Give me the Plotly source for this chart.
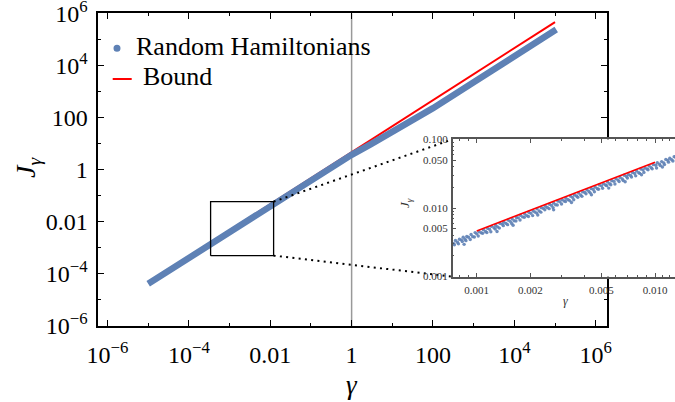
import plotly.graph_objects as go

W, H = 675, 402
BLUE = "#5E81B5"
RED = "#FF0000"
FONT = "Liberation Serif"

# ---------------- data ----------------
# main panel: centre of the "Random Hamiltonians" band
MAIN_GAMMA = [1e-5, 1e-4, 1e-3, 1e-2, 0.1, 0.3, 1, 3, 10, 30, 100, 1e3, 1e4, 1.07e5]
MAIN_J = [4.15e-5, 4.12e-4, 4.1e-3, 0.041, 0.40, 1.16, 3.7, 9.6, 27.5, 73.5, 230, 2250, 22500, 240000]

# bound
BOUND_GAMMA = [1e-5, 1e5]
BOUND_J = [4.63e-5, 4.63e5]
INSET_BOUND_GAMMA = [0.001, 0.01]
INSET_BOUND_J = [0.00463, 0.0463]

# inset scatter (values in units of 1e-3)
INSET_G_UPPER = [0.76, 0.80, 0.84, 0.88, 0.93, 0.98, 1.03, 1.09, 1.15, 1.21, 1.28, 1.35, 1.42, 1.50,
                 1.58, 1.67, 1.76, 1.86, 1.96, 2.07, 2.18, 2.30, 2.43, 2.56, 2.70, 2.85, 3.01, 3.17,
                 3.35, 3.53, 3.73, 3.93, 4.15, 4.38, 4.62, 4.87, 5.14, 5.42, 5.72, 6.04, 6.37, 6.72,
                 7.09, 7.48, 7.89, 8.33, 8.79, 9.27, 9.78, 10.3, 10.9, 11.5, 12.1, 12.8]
INSET_J_UPPER = [3.36, 3.50, 3.74, 3.84, 4.10, 4.38, 4.50, 4.83, 5.05, 5.40, 5.57, 5.97, 6.22, 6.66,
                 6.95, 7.28, 7.83, 8.17, 8.66, 9.05, 9.72, 10.12, 10.57, 11.34, 11.83, 12.65, 13.27, 13.82,
                 14.91, 15.50, 16.49, 17.17, 18.43, 19.27, 20.14, 21.67, 22.51, 23.96, 25.00, 26.76, 27.96, 29.97,
                 30.84, 32.99, 34.56, 36.99, 38.41, 40.97, 42.93, 45.63, 47.52, 51.18, 53.24, 56.06]
INSET_G_MID = [0.74, 0.78, 0.82, 0.86, 0.90, 0.95, 1.00, 1.06, 1.12, 1.18, 1.25, 1.31, 1.39, 1.46,
               1.54, 1.62, 1.71, 1.81, 1.91, 2.01, 2.12, 2.24, 2.36, 2.49, 2.63, 2.77, 2.93, 3.09,
               3.26, 3.44, 3.63, 3.83, 4.04, 4.26, 4.50, 4.75, 5.01, 5.28, 5.57, 5.88, 6.20, 6.55,
               6.91, 7.29, 7.69, 8.11, 8.56, 9.03, 9.53, 10.1, 10.6, 11.2, 11.8, 12.4, 13.1]
INSET_J_MID = [3.05, 3.16, 3.43, 3.51, 3.74, 3.82, 4.20, 4.35, 4.55, 4.91, 5.15, 5.31, 5.81, 5.96,
               6.39, 6.51, 7.18, 7.42, 7.75, 8.36, 8.73, 9.07, 9.86, 10.16, 10.91, 11.14, 12.31, 12.67,
               13.24, 14.31, 14.96, 15.51, 16.89, 17.38, 18.68, 19.10, 21.04, 21.65, 22.61, 24.46, 25.54, 26.53,
               28.88, 29.74, 31.91, 32.60, 35.95, 37.02, 38.69, 42.02, 43.67, 45.36, 49.32, 50.59, 54.37]
INSET_G_LOWER = [0.75, 0.79, 0.83, 0.87, 0.92, 0.97, 1.02, 1.08, 1.14, 1.20, 1.27, 1.34, 1.41, 1.49,
                 1.57, 1.66, 1.75, 1.85, 1.95, 2.06, 2.17, 2.29, 2.41, 2.55, 2.68, 2.83, 2.99, 3.15,
                 3.32, 3.50, 3.69, 3.89, 4.10, 4.33, 4.57, 4.82, 5.08, 5.36, 5.65, 5.96, 6.29, 6.63,
                 7.00, 7.38, 7.79, 8.21, 8.66, 9.14, 9.64, 10.2, 10.7, 11.3, 11.9, 12.6]
INSET_J_LOWER = [2.91, 3.00, 3.25, 3.34, 3.48, 3.78, 3.90, 4.27, 4.40, 4.51, 4.93, 5.09, 5.53, 5.72,
                 5.93, 6.47, 6.69, 7.31, 7.53, 7.75, 8.42, 8.70, 9.45, 9.79, 10.13, 11.04, 11.42, 12.44,
                 12.82, 13.16, 14.32, 14.78, 16.07, 16.63, 17.27, 18.80, 19.41, 21.17, 21.81, 22.41, 24.41, 25.19,
                 27.44, 28.34, 29.45, 32.02, 33.08, 36.10, 37.21, 38.35, 41.52, 42.94, 46.65, 48.38]
INSET_G_OUT = [0.85, 1.30, 1.60, 2.20, 2.70, 3.40, 4.40, 5.50, 6.80, 8.40, 11.0]
INSET_J_OUT = [2.95, 4.55, 5.60, 7.90, 9.40, 12.0, 15.6, 19.5, 24.2, 30.5, 39.6]

# zoom box in main panel
BOX_GAMMA = [3.42e-4, 0.0121]
BOX_J = [5.0e-4, 0.059]

# ticks
MAIN_TICKS = [1e-6, 1e-4, 1e-2, 1, 100, 1e4, 1e6]
MAIN_TICK_TEXT = ["10<sup>−6</sup>", "10<sup>−4</sup>", "0.01", "1", "100", "10<sup>4</sup>", "10<sup>6</sup>"]
MAIN_MINOR = [1e-5, 1e-3, 0.1, 10, 1000, 1e5]
INSET_XTICKS = [0.001, 0.002, 0.005, 0.01]
INSET_XTICK_TEXT = ["0.001", "0.002", "0.005", "0.010"]
INSET_XMINOR = [0.0008, 0.0009, 0.003, 0.004, 0.006, 0.007, 0.008, 0.009, 0.011, 0.012, 0.013]
INSET_YTICKS = [0.001, 0.005, 0.01, 0.05, 0.1]
INSET_YTICK_TEXT = ["0.001", "0.005", "0.010", "0.050", "0.100"]
INSET_YMINOR = [0.002, 0.003, 0.004, 0.006, 0.007, 0.008, 0.009,
                0.02, 0.03, 0.04, 0.06, 0.07, 0.08, 0.09]

# ---------------- layout geometry ----------------
MAIN_X_RANGE = [-6.246, 6.27]
MAIN_Y_RANGE = [-6.002, 6.002]
MAIN_X_DOMAIN = [97.5 / W, 606.7 / W]
MAIN_Y_DOMAIN = [1 - 326.0 / H, 1 - 13.3 / H]
INSET_X_RANGE = [-3.1346, -1.888]
INSET_Y_RANGE = [-3.002, -0.998]
INSET_X_DOMAIN = [452.7 / W, 1.0]
INSET_Y_DOMAIN = [1 - 276.7 / H, 1 - 139.3 / H]


def main_x_at(p):
    lo, hi = MAIN_X_RANGE
    d0, d1 = MAIN_X_DOMAIN
    return 10 ** (lo + (p - d0) / (d1 - d0) * (hi - lo))


def main_y_at(p):
    lo, hi = MAIN_Y_RANGE
    d0, d1 = MAIN_Y_DOMAIN
    return 10 ** (lo + (p - d0) / (d1 - d0) * (hi - lo))


def px(x):
    return x / W


def py(y):
    return 1 - y / H


fig = go.Figure()

# gray reference line at gamma = 1
fig.add_trace(go.Scatter(x=[1, 1], y=[1e-6, 1e6], mode="lines",
                         line=dict(color="#999999", width=1.5), hoverinfo="skip", showlegend=False))
# bound (main)
fig.add_trace(go.Scatter(x=BOUND_GAMMA, y=BOUND_J, mode="lines", name="Bound",
                         line=dict(color=RED, width=2), showlegend=False))
# random hamiltonians band (main)
fig.add_trace(go.Scatter(x=MAIN_GAMMA, y=MAIN_J, mode="lines", name="Random Hamiltonians",
                         line=dict(color=BLUE, width=6.5), showlegend=False))
# zoom box
fig.add_trace(go.Scatter(x=[BOX_GAMMA[0], BOX_GAMMA[1], BOX_GAMMA[1], BOX_GAMMA[0], BOX_GAMMA[0]],
                         y=[BOX_J[0], BOX_J[0], BOX_J[1], BOX_J[1], BOX_J[0]], mode="lines",
                         line=dict(color="black", width=1.3), hoverinfo="skip", showlegend=False))
# connectors to inset corners
cx = main_x_at(INSET_X_DOMAIN[0])
fig.add_trace(go.Scatter(x=[BOX_GAMMA[1], cx], y=[BOX_J[1], main_y_at(INSET_Y_DOMAIN[1])], mode="lines",
                         line=dict(color="black", width=2, dash="2px,4.3px"), hoverinfo="skip", showlegend=False))
fig.add_trace(go.Scatter(x=[BOX_GAMMA[1], cx], y=[BOX_J[0], main_y_at(INSET_Y_DOMAIN[0])], mode="lines",
                         line=dict(color="black", width=2, dash="2px,4.3px"), hoverinfo="skip", showlegend=False))

# inset scatter
for gs, js in [(INSET_G_MID, INSET_J_MID), (INSET_G_LOWER, INSET_J_LOWER),
               (INSET_G_UPPER, INSET_J_UPPER), (INSET_G_OUT, INSET_J_OUT)]:
    fig.add_trace(go.Scatter(x=[g * 1e-3 for g in gs], y=[j * 1e-3 for j in js], mode="markers",
                             marker=dict(color=BLUE, size=3.4, opacity=0.9, line=dict(width=0)),
                             xaxis="x2", yaxis="y2", showlegend=False))
fig.add_trace(go.Scatter(x=INSET_BOUND_GAMMA, y=INSET_BOUND_J, mode="lines",
                         line=dict(color=RED, width=1.6), xaxis="x2", yaxis="y2", showlegend=False))

main_font = dict(family=FONT, size=24, color="black")
inset_font = dict(family=FONT, size=11, color="#333333")

fig.update_layout(
    width=W, height=H,
    margin=dict(l=0, r=0, t=0, b=0, autoexpand=False),
    paper_bgcolor="white", plot_bgcolor="white",
    showlegend=False,
    xaxis=dict(type="log", range=MAIN_X_RANGE, domain=MAIN_X_DOMAIN, anchor="y", automargin=False,
               showgrid=False, zeroline=False, showline=True, linecolor="black", linewidth=2,
               mirror="ticks", ticks="inside", ticklen=6, tickwidth=1.3, tickcolor="black",
               tickmode="array", tickvals=MAIN_TICKS, ticktext=MAIN_TICK_TEXT,
               minor=dict(tickvals=MAIN_MINOR, ticks="inside", ticklen=3, tickcolor="black", tickwidth=1.1),
               tickfont=main_font, ticklabelstandoff=6, ticklabeloverflow="allow"),
    yaxis=dict(type="log", range=MAIN_Y_RANGE, domain=MAIN_Y_DOMAIN, anchor="x", automargin=False,
               showgrid=False, zeroline=False, showline=True, linecolor="black", linewidth=2,
               mirror="ticks", ticks="inside", ticklen=6, tickwidth=1.3, tickcolor="black",
               tickmode="array", tickvals=MAIN_TICKS, ticktext=MAIN_TICK_TEXT,
               minor=dict(tickvals=MAIN_MINOR, ticks="inside", ticklen=3, tickcolor="black", tickwidth=1.1),
               tickfont=main_font, ticklabelstandoff=3, ticklabeloverflow="allow"),
    xaxis2=dict(type="log", range=INSET_X_RANGE, domain=INSET_X_DOMAIN, anchor="y2", automargin=False,
                showgrid=False, zeroline=False, showline=True, linecolor="#555555", linewidth=1.5,
                mirror="ticks", ticks="inside", ticklen=4, tickwidth=1, tickcolor="#555555",
                tickmode="array", tickvals=INSET_XTICKS, ticktext=INSET_XTICK_TEXT,
                minor=dict(tickvals=INSET_XMINOR, ticks="inside", ticklen=2, tickcolor="#555555"),
                tickfont=inset_font, ticklabelstandoff=2, ticklabeloverflow="allow"),
    yaxis2=dict(type="log", range=INSET_Y_RANGE, domain=INSET_Y_DOMAIN, anchor="x2", automargin=False,
                showgrid=False, zeroline=False, showline=True, linecolor="#555555", linewidth=1.5,
                mirror=False, ticks="inside", ticklen=4, tickwidth=1, tickcolor="#555555",
                tickmode="array", tickvals=INSET_YTICKS, ticktext=INSET_YTICK_TEXT,
                minor=dict(tickvals=INSET_YMINOR, ticks="inside", ticklen=2, tickcolor="#555555"),
                tickfont=inset_font, ticklabelstandoff=1, ticklabeloverflow="allow"),
)

annotations = [
    dict(x=px(352), y=py(385), text="<i>γ</i>", font=dict(family=FONT, size=27, color="black")),
    dict(x=px(27), y=py(168), text="<i>J</i><sub><i>γ</i></sub>", textangle=-90,
         font=dict(family=FONT, size=28, color="black")),
    dict(x=px(565), y=py(301), text="<i>γ</i>", font=dict(family=FONT, size=12, color="#333333")),
    dict(x=px(405), y=py(203), text="<i>J</i><sub><i>γ</i></sub>", textangle=-90,
         font=dict(family=FONT, size=13, color="#333333")),
    dict(x=px(134), y=py(46), text="Random Hamiltonians", xanchor="left",
         font=dict(family=FONT, size=26, color="black")),
    dict(x=px(141), y=py(76), text="Bound", xanchor="left",
         font=dict(family=FONT, size=26, color="black")),
]
for a in annotations:
    a.setdefault("xanchor", "center")
    a.update(xref="paper", yref="paper", yanchor="middle", showarrow=False)
fig.update_layout(annotations=annotations)

fig.add_shape(type="circle", xref="paper", yref="paper",
              x0=px(113.5), x1=px(120.5), y0=py(51.8), y1=py(44.8),
              fillcolor=BLUE, line=dict(width=0))
fig.add_shape(type="line", xref="paper", yref="paper",
              x0=px(112.7), x1=px(131.7), y0=py(79), y1=py(79),
              line=dict(color=RED, width=2))

fig.write_html("out.html", config={"displayModeBar": False},
               post_script="document.body.style.margin='0';document.body.style.overflow='hidden';")
